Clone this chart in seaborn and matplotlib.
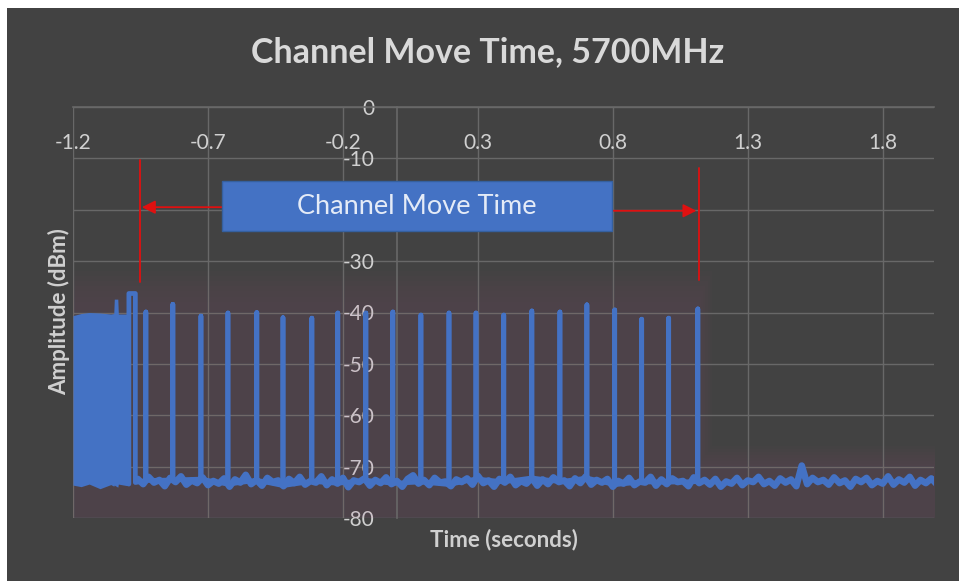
import numpy as np
import matplotlib
matplotlib.use("Agg")
import matplotlib.pyplot as plt
from matplotlib.patches import Rectangle
import seaborn as sns

# pulse (beacon) times in seconds and their peak amplitudes in dBm
pulse_t = [-0.930, -0.830, -0.726, -0.626, -0.519, -0.422, -0.315, -0.219, -0.115, -0.015,
           0.089, 0.193, 0.293, 0.396, 0.500, 0.604, 0.704, 0.807, 0.907, 1.007, 1.115]
pulse_db = [-39.9, -38.4, -40.7, -40.1, -40.0, -41.0, -41.1, -40.1, -40.1, -39.9,
            -40.5, -40.1, -40.1, -40.5, -39.7, -39.9, -38.5, -39.5, -41.3, -41.1, -39.3]

# dense traffic block before the channel move
block_t = [-1.2, -1.17, -1.14, -1.10, -1.06, -1.049, -1.047, -1.034, -1.032, -1.0, -0.996]
block_top = [-40.6, -40.2, -40.0, -40.1, -40.3, -40.2, -37.4, -37.4, -40.3, -40.3, -40.3]
block_low = [-73.6, -73.9, -73.4, -74.3, -73.5, -73.8, -73.6, -74.0, -73.4, -73.7, -73.6]

# the double burst right after the block
burst_t = [-0.993, -0.993, -0.969, -0.969]
burst_db = [-73.4, -36.3, -36.3, -73.1]

# noise floor, sampled every 0.02 s from -0.96 s
floor_start = -0.96
floor_step = 0.02
floor_db = [
    -72.4, -73.4, -72.0, -73.1, -72.6, -73.8, -72.2, -73.0, -71.9, -73.5, -72.7, -73.2, -72.1, -73.6, -72.8,
    -73.3, -72.3, -73.9, -72.5, -73.1, -71.6, -73.4, -72.6, -73.7, -72.2, -73.0, -72.7, -73.8, -72.4, -73.2,
    -72.0, -73.5, -72.8, -73.1, -71.9, -73.6, -72.5, -73.3, -72.2, -74.0, -72.7, -73.0, -72.3, -73.7, -72.6,
    -73.2, -72.1, -73.4, -72.8, -73.9, -72.4, -71.7, -73.3, -72.6, -73.6, -72.2, -73.1, -72.9, -73.8, -72.5,
    -73.0, -72.3, -73.5, -71.8, -73.2, -72.7, -73.9, -72.4, -73.1, -72.0, -73.6, -72.8, -73.3, -72.2, -73.7,
    -72.5, -73.4, -72.1, -73.0, -72.7, -73.8, -72.3, -73.2, -71.9, -73.5, -72.6, -73.1, -72.4, -73.9, -72.8,
    -73.3, -72.2, -73.6, -72.9, -73.1, -72.0, -73.7, -72.5, -73.4, -72.3, -73.0, -72.8, -73.8, -72.1, -73.2,
    -72.6, -73.5, -72.4, -73.9, -72.9, -73.3, -72.2, -73.6, -72.7, -73.0, -72.0, -73.4, -72.8, -73.7, -72.3,
    -73.1, -72.5, -73.8, -69.8, -73.4, -72.2, -73.0, -72.6, -73.5, -72.1, -73.2, -72.7, -73.9, -72.4, -73.0,
    -72.2, -73.6, -72.8, -73.3, -71.9, -73.5, -72.5, -73.1, -72.0, -73.7, -72.6, -73.2, -72.3, -73.4, -72.8,
]

x_ticks = [-1.2, -0.7, -0.2, 0.3, 0.8, 1.3, 1.8]
x_labels = ["-1.2", "-0.7", "-0.2", "0.3", "0.8", "1.3", "1.8"]
y_ticks = [0, -10, -20, -30, -40, -50, -60, -70, -80]
y_labels = ["0", "-10", "", "-30", "-40", "-50", "-60", "-70", "-80"]

BG = "#424242"
GRID = "#686868"
BLUE = "#4472C4"
TXT = "#d0d0d0"
GLOW = "#c86a9a"

sns.set_theme(style="darkgrid", rc={
    "axes.facecolor": BG, "figure.facecolor": "white", "grid.color": GRID,
    "grid.linewidth": 1.0, "axes.unicode_minus": False,
})
plt.rcParams["font.family"] = ["Lato", "DejaVu Sans"]

# build the trace: pulses + burst, floor drawn on its own
floor_t = floor_start + floor_step * np.arange(len(floor_db))
pt, pdb = [], []
for t, peak in zip(pulse_t, pulse_db):
    base = np.interp(t, floor_t, floor_db)
    pt += [t, t, t]
    pdb += [base, peak, base]
all_t = np.concatenate([burst_t, pt])
all_db = np.concatenate([burst_db, pdb])

fig = plt.figure(figsize=(9.59, 5.81), dpi=100)
fig.patches.append(Rectangle((7 / 959, 0), 1 - 7 / 959, 1 - 8 / 581,
                             transform=fig.transFigure, facecolor=BG, edgecolor="none", zorder=-5))
ax = fig.add_axes([73 / 959, 1 - 518 / 581, 861 / 959, 411 / 581])

# soft glow around the series: stacked translucent layers
t_end = pulse_t[-1]
top = max(pulse_db)
for off in [0.5, 1.5, 2.5, 3.5, 4.5, 5.5, 6.5]:
    d = off * 0.008
    env_t = [-1.2, t_end + d, t_end + d, 2.0]
    env_top = [top + off, top + off, max(floor_db) + off * 0.6, max(floor_db) + off * 0.6]
    ax.fill_between(env_t, -80, env_top, color=GLOW, alpha=0.015, lw=0, zorder=1)

ax.fill_between(block_t, block_low, block_top, color=BLUE, lw=0, zorder=3)
sns.lineplot(x=floor_t, y=floor_db, sort=False, estimator=None, color=BLUE,
             lw=4.8, ax=ax, zorder=3)
sns.lineplot(x=all_t, y=all_db, sort=False, estimator=None, color=BLUE,
             lw=3.4, ax=ax, zorder=3)

ax.set_xlim(-1.2, 1.99)
ax.set_ylim(-80, 0)
ax.set_xticks(x_ticks)
ax.set_xticklabels(x_labels)
ax.set_yticks(y_ticks)
ax.set_yticklabels(y_labels)
ax.set_xlabel("")
ax.set_ylabel("")
ax.xaxis.set_ticks_position("top")
ax.tick_params(axis="x", top=False, bottom=False, labeltop=True, labelbottom=False,
               pad=-33, labelsize=15, colors=TXT, length=0)
ax.tick_params(axis="y", left=False, pad=16, labelsize=15, colors=TXT, length=0)
for side in ["right", "bottom"]:
    ax.spines[side].set_visible(False)
ax.spines["left"].set_position(("data", 0))
ax.spines["left"].set_color(GRID)
ax.spines["top"].set_color(GRID)
ax.spines["left"].set_linewidth(1.2)
ax.spines["top"].set_linewidth(1.2)

# channel move time annotation
RED = "#e01010"
ax.plot([-0.95, -0.95], [-10.3, -34.1], color=RED, lw=1.3, zorder=4)
ax.plot([1.119, 1.119], [-11.9, -33.7], color=RED, lw=1.3, zorder=4)
ax.annotate("", xy=(-0.945, -19.5), xytext=(-0.648, -19.5),
            arrowprops=dict(arrowstyle="-|>", color=RED, lw=1.3, mutation_scale=20,
                            shrinkA=0, shrinkB=0), zorder=4)
ax.annotate("", xy=(1.11, -20.2), xytext=(0.796, -20.2),
            arrowprops=dict(arrowstyle="-|>", color=RED, lw=1.3, mutation_scale=20,
                            shrinkA=0, shrinkB=0), zorder=4)
ax.add_patch(Rectangle((-0.648, -24.1), 1.444, 9.7, facecolor=BLUE,
                       edgecolor="#35609f", lw=1, zorder=5))
ax.text(0.074, -19.4, "Channel Move Time", ha="center", va="center",
        fontsize=19.5, color="#e4ebf7", zorder=6)

fig.text(488 / 959, 1 - 52 / 581, "Channel Move Time, 5700MHz", ha="center", va="center",
         fontsize=24.5, fontweight="bold", color="#d9d9d9")
fig.text(59 / 959, 1 - 312 / 581, "Amplitude (dBm)", ha="center", va="center",
         rotation=90, fontsize=16, fontweight="bold", color=TXT)
fig.text(504 / 959, 1 - 540 / 581, "Time (seconds)", ha="center", va="center",
         fontsize=16, fontweight="bold", color=TXT)

fig.savefig("out.png", dpi=100)
